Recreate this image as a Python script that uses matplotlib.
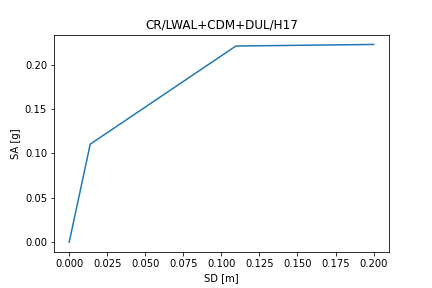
import matplotlib
matplotlib.use("Agg")
import matplotlib.pyplot as plt

sd = [0.0, 0.0138, 0.1095, 0.2]
sa = [0.0, 0.1105, 0.2212, 0.2230]

fig, ax = plt.subplots(figsize=(6, 4), dpi=72)
fig.subplots_adjust(bottom=0.125)
ax.plot(sd, sa)
ax.set_xlabel('SD [m]')
ax.set_ylabel('SA [g]')
ax.set_title('CR/LWAL+CDM+DUL/H17')
fig.savefig('out.png', dpi=72)
